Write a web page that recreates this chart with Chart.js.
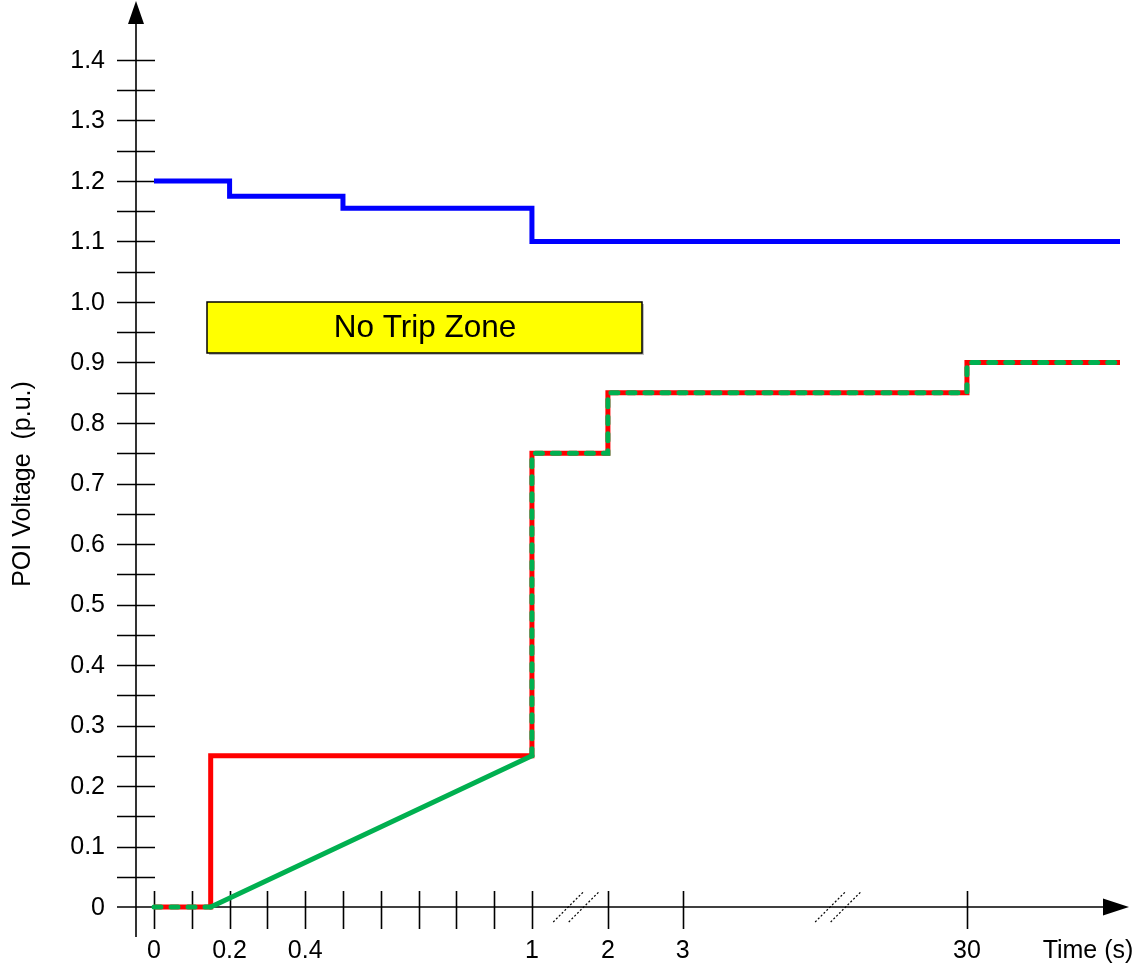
<!DOCTYPE html>
<html>
<head>
<meta charset="utf-8">
<script src="https://cdn.jsdelivr.net/npm/chart.js@4/dist/chart.umd.min.js"></script>
<style>
  html, body { margin: 0; padding: 0; background: #fff; }
  #wrap { width: 1141px; height: 970px; position: relative; }
</style>
</head>
<body>
<div id="wrap"><canvas id="c"></canvas></div>
<script>
// ---------- data ----------
const blueTime = [0, 0.2, 0.2, 0.5, 0.5, 1, 1, 40];
const blueVolt = [1.2, 1.2, 1.175, 1.175, 1.155, 1.155, 1.1, 1.1];

const redTime = [0, 0.15, 0.15, 1, 1, 2, 2, 30, 30, 40];
const redVolt = [0, 0, 0.25, 0.25, 0.75, 0.75, 0.85, 0.85, 0.9, 0.9];

const greenTime = [0, 0.15, 1, 1, 2, 2, 30, 30, 40];
const greenVolt = [0, 0, 0.25, 0.75, 0.75, 0.85, 0.85, 0.9, 0.9];

const xTickTimes = [0, 0.1, 0.2, 0.3, 0.4, 0.5, 0.6, 0.7, 0.8, 0.9, 1, 2, 3, 30];
const xTickLabels = ['0', '', '0.2', '', '0.4', '', '', '', '', '', '1', '2', '3', '30'];
const yTickValues = [0.05, 0.1, 0.15, 0.2, 0.25, 0.3, 0.35, 0.4, 0.45, 0.5, 0.55, 0.6, 0.65, 0.7,
                     0.75, 0.8, 0.85, 0.9, 0.95, 1.0, 1.05, 1.1, 1.15, 1.2, 1.25, 1.3, 1.35, 1.4];
const yTickLabels = ['0', '0.1', '0.2', '0.3', '0.4', '0.5', '0.6', '0.7', '0.8', '0.9', '1.0', '1.1', '1.2', '1.3', '1.4'];

// broken time axis: time -> axis units (piecewise linear)
const breakTimes = [0, 1, 2, 3, 30, 40];
const breakUnits = [0, 1, 1.201, 1.399, 2.151, 2.556];
// axis break marks: [from time, to time, relative position between them]
const axisBreaks = [[1, 2, 0.58], [3, 30, 0.546]];

function tx(t) {
  for (let i = 0; i < breakTimes.length - 1; i++) {
    const a = breakTimes[i], b = breakTimes[i + 1];
    if (t <= b || i === breakTimes.length - 2) {
      return breakUnits[i] + (t - a) / (b - a) * (breakUnits[i + 1] - breakUnits[i]);
    }
  }
}
const pts = (ts, vs) => ts.map((t, i) => ({ x: tx(t), y: vs[i] }));

const FONT = '"Liberation Sans", Arial, sans-serif';

const axesPlugin = {
  id: 'axesPlugin',
  beforeDatasetsDraw(chart) {
    const ctx = chart.ctx;
    const xs = chart.scales.x, ys = chart.scales.y;
    const y0 = ys.getPixelForValue(0);
    const ax = 136; // y-axis line position
    ctx.save();
    ctx.strokeStyle = '#000';
    ctx.fillStyle = '#000';
    ctx.lineWidth = 1.6;

    // y axis line
    ctx.beginPath();
    ctx.moveTo(ax, 937);
    ctx.lineTo(ax, 20);
    ctx.stroke();
    // y arrow
    ctx.beginPath();
    ctx.moveTo(ax, 1);
    ctx.lineTo(ax - 8, 24);
    ctx.lineTo(ax + 8, 24);
    ctx.closePath();
    ctx.fill();

    // x axis line
    ctx.beginPath();
    ctx.moveTo(117, y0);
    ctx.lineTo(1106, y0);
    ctx.stroke();
    // x arrow
    ctx.beginPath();
    ctx.moveTo(1129, y0);
    ctx.lineTo(1103, y0 - 8.5);
    ctx.lineTo(1103, y0 + 8.5);
    ctx.closePath();
    ctx.fill();

    // y ticks
    ctx.beginPath();
    yTickValues.forEach(v => {
      const y = Math.round(ys.getPixelForValue(v)) + 0.5;
      ctx.moveTo(117, y);
      ctx.lineTo(155, y);
    });
    ctx.stroke();

    // x ticks
    ctx.beginPath();
    xTickTimes.forEach(t => {
      const x = Math.round(xs.getPixelForValue(tx(t))) + 0.5;
      ctx.moveTo(x, 891);
      ctx.lineTo(x, 929);
    });
    ctx.stroke();

    // tick labels
    ctx.font = '25px ' + FONT;
    ctx.textAlign = 'right';
    ctx.textBaseline = 'middle';
    yTickLabels.forEach((lab, i) => {
      const v = i * 0.1;
      ctx.fillText(lab, 105, ys.getPixelForValue(v) + 1);
    });
    ctx.textAlign = 'center';
    xTickTimes.forEach((t, i) => {
      if (xTickLabels[i]) ctx.fillText(xTickLabels[i], xs.getPixelForValue(tx(t)), 951);
    });
    ctx.fillText('Time (s)', 1088, 951);

    // y title
    ctx.save();
    ctx.translate(23, 484);
    ctx.rotate(-Math.PI / 2);
    ctx.fillText('POI Voltage  (p.u.)', 0, 0);
    ctx.restore();

    // axis break marks (dotted double slashes)
    ctx.lineWidth = 1.2;
    ctx.setLineDash([2, 2]);
    axisBreaks.forEach(([a, b, f]) => {
      const pa = xs.getPixelForValue(tx(a)), pb = xs.getPixelForValue(tx(b));
      const mid = pa + (pb - pa) * f;
      [-7.75, 7.75].forEach(off => {
        ctx.beginPath();
        ctx.moveTo(mid + off - 15, y0 + 15);
        ctx.lineTo(mid + off + 15, y0 - 15);
        ctx.stroke();
      });
    });
    ctx.setLineDash([]);

    // No Trip Zone box
    const bx = 207, by = 302, bw = 435, bh = 51;
    ctx.fillStyle = 'rgba(0,0,0,0.25)';
    ctx.fillRect(bx + 2, by + 2, bw, bh);
    ctx.fillStyle = '#ffff00';
    ctx.fillRect(bx, by, bw, bh);
    ctx.lineWidth = 1.5;
    ctx.strokeStyle = '#000';
    ctx.strokeRect(bx, by, bw, bh);
    ctx.fillStyle = '#000';
    ctx.font = '31.5px ' + FONT;
    ctx.textAlign = 'center';
    ctx.textBaseline = 'middle';
    ctx.fillText('No Trip Zone', bx + bw / 2 + 0.5, by + bh / 2 + 1);

    ctx.restore();
  }
};

// Note: Chart.js paints lower dataset indices on top.
new Chart(document.getElementById('c'), {
  type: 'line',
  data: {
    datasets: [
      {
        label: 'Green',
        data: pts(greenTime, greenVolt),
        borderColor: '#00b050',
        borderWidth: 5,
        borderDash: [7, 10],
        borderCapStyle: 'round',
        pointRadius: 0,
        tension: 0,
        clip: false,
        segment: {
          borderDash: ctx => (ctx.p0DataIndex === 1 ? [] : [7, 10])
        }
      },
      {
        label: 'Red',
        data: pts(redTime, redVolt),
        borderColor: '#ff0000',
        borderWidth: 5,
        pointRadius: 0,
        tension: 0,
        clip: false
      },
      {
        label: 'Blue',
        data: pts(blueTime, blueVolt),
        borderColor: '#0000ff',
        borderWidth: 5,
        pointRadius: 0,
        tension: 0,
        clip: false
      }
    ]
  },
  options: {
    responsive: true,
    maintainAspectRatio: false,
    animation: false,
    layout: { padding: { left: 154, right: 21, top: 60, bottom: 63 } },
    plugins: { legend: { display: false }, tooltip: { enabled: false } },
    scales: {
      x: { type: 'linear', min: 0, max: breakUnits[breakUnits.length - 1], display: false },
      y: { type: 'linear', min: 0, max: 1.4, display: false }
    }
  },
  plugins: [axesPlugin]
});
</script>
</body>
</html>
